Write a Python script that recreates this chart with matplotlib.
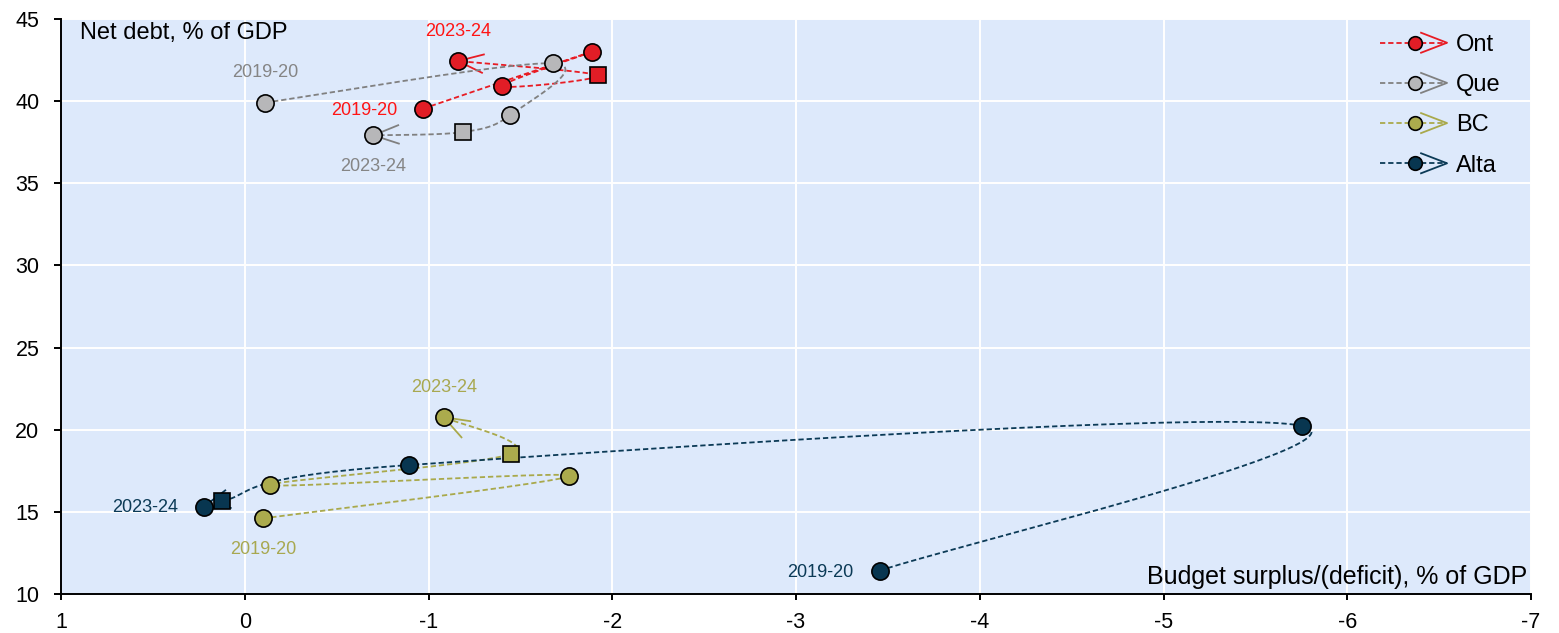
import numpy as np
import matplotlib
matplotlib.use("Agg")
import matplotlib.pyplot as plt
from matplotlib.lines import Line2D
from matplotlib.legend_handler import HandlerBase

plt.rcParams['font.family'] = ['Liberation Sans', 'DejaVu Sans']
plt.rcParams['axes.unicode_minus'] = False
plt.rcParams['lines.scale_dashes'] = False

# ---------------- data ----------------
years = ['2019-20', '2020-21', '2021-22', '2022-23', '2023-24']
provinces = ['Ont', 'Que', 'BC', 'Alta']

ont_balance = [-0.97, -1.89, -1.40, -1.92, -1.16]
ont_debt = [39.54, 43.01, 40.92, 41.57, 42.44]

que_balance = [-0.11, -1.675, -1.445, -1.19, -0.70]
que_debt = [39.91, 42.30, 39.16, 38.12, 37.92]

bc_balance = [-0.10, -1.765, -0.14, -1.45, -1.083]
bc_debt = [14.60, 17.19, 16.63, 18.53, 20.76]

alta_balance = [-3.456, -5.754, -0.894, 0.124, 0.222]
alta_debt = [11.42, 20.23, 17.85, 15.66, 15.32]

x_ticks = [1, 0, -1, -2, -3, -4, -5, -6, -7]
y_ticks = [10, 15, 20, 25, 30, 35, 40, 45]

# ---------------- style ----------------
series = [
    (ont_balance, ont_debt, dict(line='#e81c24', fill='#e21d26', text='#ff1414')),
    (que_balance, que_debt, dict(line='#808080', fill='#b7b7b9', text='#858585')),
    (bc_balance, bc_debt, dict(line='#a9a94b', fill='#abab4d', text='#a8a850')),
    (alta_balance, alta_debt, dict(line='#0b3a56', fill='#083650', text='#0b3a56')),
]
# label placement for first / last year of each province
label_pos = [('left', 'above'), ('above', 'below'), ('below', 'above'), ('left', 'left')]
marker_kinds = ['o', 'o', 'o', 's', 'o']

BG = '#dde9fb'
W, H = 1559, 633
fig = plt.figure(figsize=(W / 100, H / 100), dpi=100)
ax = fig.add_axes([61 / W, 1 - 594 / H, (1531 - 61) / W, (594 - 19) / H])
ax.set_facecolor(BG)
ax.set_xlim(1, -7)
ax.set_ylim(10, 45)
ax.set_xticks(x_ticks)
ax.set_yticks(y_ticks)
ax.grid(True, color='white', lw=1.4, zorder=0)
ax.set_axisbelow(True)
for s in ['top', 'right']:
    ax.spines[s].set_visible(False)
for s in ['left', 'bottom']:
    ax.spines[s].set_linewidth(1.4)
    ax.spines[s].set_color('black')
ax.tick_params(axis='x', direction='out', length=4.5, width=1.4, pad=8.5, labelsize=15.5)
ax.tick_params(axis='y', direction='out', length=5, width=1.4, pad=10.5, labelsize=15.5)

DASH = (3.8, 2.1)
LW = 1.3


def smooth_path(xs, ys, n=60):
    pts = ax.transData.transform(np.column_stack([xs, ys]))
    N = len(pts)
    out = []
    for i in range(N - 1):
        p0 = pts[max(i - 1, 0)]
        p1 = pts[i]
        p2 = pts[i + 1]
        p3 = pts[min(i + 2, N - 1)]
        c1 = p1 + (p2 - p0) / 6.0
        c2 = p2 - (p3 - p1) / 6.0
        t = np.linspace(0, 1, n)[:, None]
        seg = (1 - t) ** 3 * p1 + 3 * (1 - t) ** 2 * t * c1 + 3 * (1 - t) * t ** 2 * c2 + t ** 3 * p2
        out.append(seg if i == 0 else seg[1:])
    disp = np.vstack(out)
    return ax.transData.inverted().transform(disp), pts


def arrow_head(pts, L=26.0, Hh=9.5):
    tip = pts[-1]
    d = pts[-1] - pts[-2]
    d = d / np.hypot(*d)
    perp = np.array([-d[1], d[0]])
    a = tip - d * L + perp * Hh
    b = tip - d * L - perp * Hh
    disp = np.array([a, tip, b])
    return ax.transData.inverted().transform(disp)


for (xs, ys, c) in series:
    curve, pts = smooth_path(xs, ys)
    ax.plot(curve[:, 0], curve[:, 1], color=c['line'], lw=LW, dashes=DASH, zorder=2,
            solid_capstyle='butt', dash_capstyle='butt')
    head = arrow_head(pts)
    ax.plot(head[:, 0], head[:, 1], color=c['line'], lw=LW, zorder=2, solid_capstyle='butt')

for (xs, ys, c) in series:
    for x, y, m in zip(xs, ys, marker_kinds):
        ax.plot([x], [y], marker=m, ms=12.4 if m == 'o' else 11.8, mfc=c['fill'], mec='black',
                mew=1.2, ls='none', zorder=4)

offsets = {
    'left': dict(xytext=(-18.7, -1.0), ha='right', va='center'),
    'above': dict(xytext=(0, 21.6), ha='center', va='center'),
    'below': dict(xytext=(0, -22.5), ha='center', va='center'),
}
for (xs, ys, c), (p_first, p_last) in zip(series, label_pos):
    for idx, pos in ((0, p_first), (-1, p_last)):
        o = offsets[pos]
        ax.annotate(years[idx], xy=(xs[idx], ys[idx]), xytext=o['xytext'],
                    textcoords='offset points', ha=o['ha'], va=o['va'],
                    color=c['text'], fontsize=13, zorder=5)

ax.text((80 - 61) / 1470, 0.9955, 'Net debt, % of GDP', transform=ax.transAxes,
        ha='left', va='top', fontsize=17)
ax.text(0.9975, 0.008, 'Budget surplus/(deficit), % of GDP', transform=ax.transAxes,
        ha='right', va='bottom', fontsize=18)


class ArrowLegendHandler(HandlerBase):
    def create_artists(self, legend, orig_handle, xdescent, ydescent, width, height,
                       fontsize, trans):
        y = height / 2.0 - ydescent
        x0 = -xdescent
        x1 = x0 + width
        lc = orig_handle.get_color()
        fc = orig_handle.get_markerfacecolor()
        ln = Line2D([x0, x1], [y, y], color=lc, lw=LW, dashes=DASH, transform=trans)
        L, Hh = 18.7, 7.2
        arm = Line2D([x1 - L, x1, x1 - L], [y + Hh, y, y - Hh], color=lc, lw=LW,
                     transform=trans)
        mk = Line2D([x0 + width * 0.52], [y], marker='o', ms=9.8, mfc=fc, mec='black',
                    mew=1.2, ls='none', transform=trans)
        return [ln, arm, mk]


handles = [Line2D([], [], color=c['line'], markerfacecolor=c['fill']) for (_, _, c) in series]
leg = ax.legend(handles, provinces, loc='upper left',
                bbox_to_anchor=((1380 - 61) / 1470, (594 - 34) / 575),
                frameon=False, fontsize=17, borderpad=0, borderaxespad=0,
                handlelength=67 / 23.6, handletextpad=9 / 23.6, labelspacing=0.77,
                handler_map={Line2D: ArrowLegendHandler()})
leg.set_zorder(6)

fig.savefig('out.png', dpi=100, facecolor='white')
